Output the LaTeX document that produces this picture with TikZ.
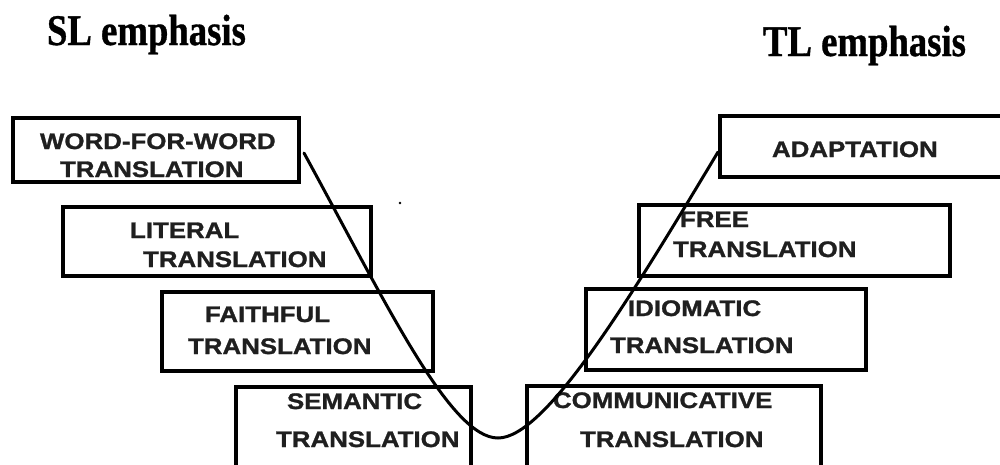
\documentclass[tikz,border=0pt]{standalone}
\usepackage{fontspec}
\usetikzlibrary{calc}
\newfontfamily\boxfont{Liberation Sans}[FakeStretch=1.15,BoldFeatures={FakeBold=1.2}]
\newfontfamily\titlefont{Liberation Serif}[FakeStretch=0.84,BoldFeatures={FakeBold=0.8}]
\begin{document}
\begin{tikzpicture}[x=1pt,y=-1pt,
  box/.style={draw=black,line width=3.4pt,inner sep=0pt,outer sep=0pt,rectangle},
  thickbox/.style={box,line width=4.3pt},
  lbl/.style={anchor=base west,inner sep=0pt,outer sep=0pt,text=black!88,font=\boxfont\bfseries\fontsize{22.5}{22.5}\selectfont},
  ttl/.style={anchor=base west,inner sep=0pt,outer sep=0pt,font=\titlefont\bfseries\fontsize{43.7}{43.7}\selectfont},
  curveline/.style={draw=black,line width=3pt,line cap=round}]
\useasboundingbox (0,0) rectangle (1000,464);
\clip (0,0) rectangle (1000,464);
% titles
\node[ttl] (sl) at (47,45) {SL emphasis};
\node[ttl] (tl) at (763,56) {TL emphasis};
% boxes
\node[box,minimum width=286pt,minimum height=64pt] (b1) at (156,150) {};
\node[box,minimum width=308pt,minimum height=69pt] (b2) at (217,241.5) {};
\node[thickbox,minimum width=271pt,minimum height=79pt] (b3) at (297.5,331.5) {};
\node[box,minimum width=235pt,minimum height=83pt] (b4) at (353.5,428.5) {};
\node[box,minimum width=294pt,minimum height=84pt] (b5) at (674,428) {};
\node[thickbox,minimum width=280pt,minimum height=81pt] (b6) at (726,329.5) {};
\node[box,minimum width=311pt,minimum height=71pt] (b7) at (794.5,240.5) {};
\node[box,minimum width=285pt,minimum height=61pt] (b8) at (862.5,146.5) {};
% labels
\node[lbl] (t1a) at (40,149) {WORD-FOR-WORD};
\node[lbl] (t1b) at (60,177) {TRANSLATION};
\node[lbl] (t2a) at (130,238) {LITERAL};
\node[lbl] (t2b) at (143,267) {TRANSLATION};
\node[lbl] (t3a) at (205,322) {FAITHFUL};
\node[lbl] (t3b) at (188,354) {TRANSLATION};
\node[lbl] (t4a) at (287,409) {SEMANTIC};
\node[lbl] (t4b) at (276,447) {TRANSLATION};
\node[lbl] (t5a) at (553,408) {COMMUNICATIVE};
\node[lbl] (t5b) at (580,447) {TRANSLATION};
\node[lbl] (t6a) at (628,316) {IDIOMATIC};
\node[lbl] (t6b) at (610,353) {TRANSLATION};
\node[lbl] (t7a) at (680,227) {FREE};
\node[lbl] (t7b) at (673,257) {TRANSLATION};
\node[lbl] (t8a) at (772,157) {ADAPTATION};
% speck
\fill[black] (400,203) circle (1.3pt);
% curve
\coordinate (cs) at ($(b1.east)+(5,3)$);
\coordinate (cb) at (498,438);
\coordinate (ce) at ($(b8.west)+(-2,5.5)$);
\draw[curveline] (cs) .. controls (386,303) and (450,438) .. (cb)
  .. controls (545,438) and (628,302) .. (ce);
\end{tikzpicture}
\end{document}
